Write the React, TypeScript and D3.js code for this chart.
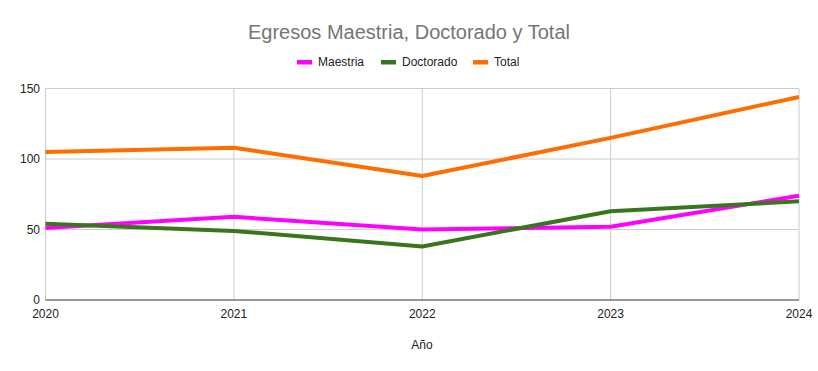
import React from "react";
import * as d3 from "d3";

const years = ["2020", "2021", "2022", "2023", "2024"];
const maestria = [51, 59, 50, 52, 74];
const doctorado = [54, 49, 38, 63, 70];
const total = [105, 108, 88, 115, 144];
const yTicks = [0, 50, 100, 150];

const series = [
  { name: "Maestria", values: maestria, color: "#ff00ff" },
  { name: "Doctorado", values: doctorado, color: "#38761d" },
  { name: "Total", values: total, color: "#ff6d01" },
];

const W = 818, H = 371;
const left = 45.5, right = 799, top = 88.5, bottom = 300;
const font = "Arial, 'Liberation Sans', sans-serif";

export default function App() {
  const x = d3.scalePoint<string>().domain(years).range([left, right]);
  const y = d3.scaleLinear().domain([0, 150]).range([bottom, top]);
  const line = d3.line<number>().x((_, i) => x(years[i])!).y((d) => y(d));
  const legendX = [297, 381, 473];
  return (
    <svg width={W} height={H} style={{ position: "absolute", left: 0, top: 0 }}>
      <rect width={W} height={H} fill="#fff" />
      <text x={409} y={39} textAnchor="middle" fontFamily={font} fontSize={20} fill="#757575">
        Egresos Maestria, Doctorado y Total
      </text>
      {series.map((s, i) => (
        <g key={s.name}>
          <rect x={legendX[i]} y={60} width={15} height={4.5} fill={s.color} />
          <text x={legendX[i] + 21} y={66} fontFamily={font} fontSize={12} fill="#222">
            {s.name}
          </text>
        </g>
      ))}
      {yTicks.map((t) => (
        <g key={t}>
          {t > 0 && <line x1={left} x2={right} y1={y(t)} y2={y(t)} stroke="#cccccc" strokeWidth={1} />}
          <text x={40} y={y(t) + 4} textAnchor="end" fontFamily={font} fontSize={12} fill="#222">
            {t}
          </text>
        </g>
      ))}
      {years.map((yr) => (
        <g key={yr}>
          <line x1={x(yr)} x2={x(yr)} y1={top} y2={bottom} stroke="#cccccc" strokeWidth={1} />
          <text x={x(yr)} y={318} textAnchor="middle" fontFamily={font} fontSize={12} fill="#222">
            {yr}
          </text>
        </g>
      ))}
      <line x1={left} x2={right} y1={bottom} y2={bottom} stroke="#333" strokeWidth={1} />
      {series.map((s) => (
        <path key={s.name} d={line(s.values)!} fill="none" stroke={s.color} strokeWidth={4} strokeLinejoin="round" />
      ))}
      <text x={422} y={349} textAnchor="middle" fontFamily={font} fontSize={12} fill="#222">
        Año
      </text>
    </svg>
  );
}
